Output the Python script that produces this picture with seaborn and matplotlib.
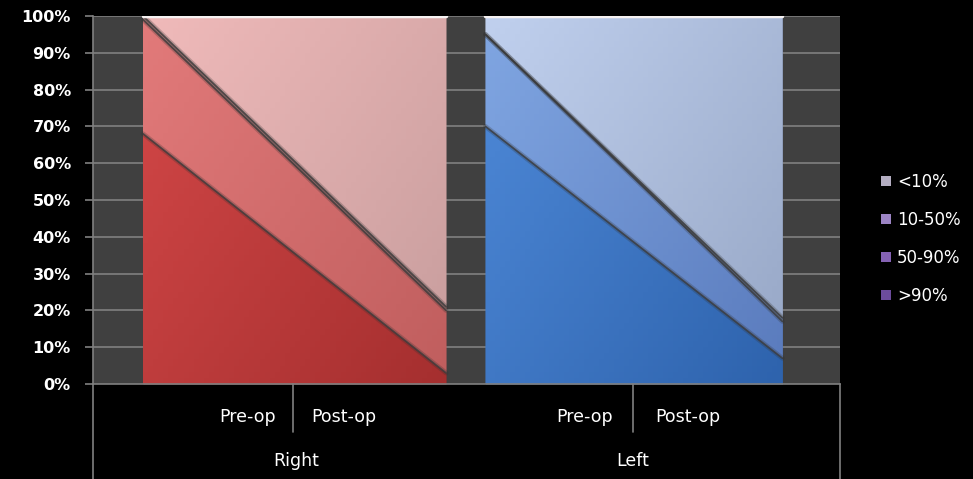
import numpy as np
import seaborn as sns
import matplotlib
matplotlib.use("Agg")
import matplotlib.pyplot as plt
from matplotlib.colors import LinearSegmentedColormap
from matplotlib.patches import Patch

# data (percent of each stage)
groups = ["Right", "Left"]
stages = ["Pre-op", "Post-op"]
series = ["<10%", "10-50%", "50-90%", ">90%"]

right_gt90 = [68, 3]
right_50_90 = [31, 17]
right_10_50 = [1, 1]
right_lt10 = [0, 79]

left_gt90 = [70, 7]
left_50_90 = [25, 10]
left_10_50 = [0, 1]
left_lt10 = [5, 82]

# where each group sits on the x axis
group_x = {"Right": [0.0, 1.0], "Left": [1.13, 2.11]}

# (light colour, dark colour) of each band, bottom band first
red_cols = [("#d44848", "#a52f2f"), ("#e27a7a", "#c05e5e"),
            ("#e9a0a0", "#c88888"), ("#f0baba", "#c79d9d")]
blue_cols = [("#4f8ad9", "#2e63ad"), ("#80a6e2", "#5a7bbd"),
             ("#9fb8e6", "#7f97c6"), ("#c0d0ee", "#97a7c6")]
legend_cols = ["#b4aec2", "#9c84c4", "#8562b4", "#6c4c9c"]

sns.set_theme(style="dark")
plt.rcParams['font.family'] = ['DejaVu Sans']

fig = plt.figure(figsize=(9.73, 4.79), dpi=100, facecolor="black")
W, H = 973, 479
ax = fig.add_axes([93 / W, (H - 384) / H, (840 - 93) / W, (384 - 16) / H])
ax.set_facecolor("#404040")

grid_col = "#808080"
ax.set_xlim(-0.165, 2.30)
ax.set_ylim(0, 100)
ax.set_yticks(np.arange(0, 101, 10))
ax.set_yticklabels([f"{v}%" for v in range(0, 101, 10)], color="white",
                   fontsize=11.5, fontweight="bold")
ax.set_xticks([])
ax.grid(False)
for y in range(10, 101, 10):
    ax.axhline(y, color=grid_col, lw=1.2, zorder=0)
ax.tick_params(axis="y", length=6, width=1.2, color=grid_col, pad=10, left=True)
for side in ["top", "right"]:
    ax.spines[side].set_visible(False)
ax.spines["left"].set_color(grid_col)
ax.spines["left"].set_linewidth(1.2)
ax.spines["bottom"].set_color(grid_col)
ax.spines["bottom"].set_linewidth(1.2)


def band(x, lower, upper, c_light, c_dark):
    poly = ax.fill_between(x, lower, upper, color=c_dark, lw=0, zorder=2)
    cmap = LinearSegmentedColormap.from_list("b", [c_light, c_dark])
    gx, gy = np.meshgrid(np.linspace(0, 1, 60), np.linspace(0, 1, 60))
    grad = 0.55 * gx + 0.45 * (1 - gy)
    im = ax.imshow(grad, extent=[x[0], x[1], 0, 100], origin="lower",
                   aspect="auto", cmap=cmap, vmin=0, vmax=1, zorder=2)
    im.set_clip_path(poly.get_paths()[0], ax.transData)


def draw_group(name, vals, cols):
    x = group_x[name]
    lower = np.zeros(2)
    for v, (cl, cd) in zip(vals, cols):
        upper = lower + np.array(v)
        if np.any(upper > lower):
            band(x, lower, upper, cl, cd)
        lower = upper
    # dark seams between bands, with a soft shadow
    tops = np.cumsum(np.array(vals), axis=0)
    for t in tops[:-1]:
        sns.lineplot(x=x, y=t, ax=ax, color="#303030", lw=3.5, alpha=0.25,
                     zorder=3, legend=False)
        sns.lineplot(x=x, y=t, ax=ax, color="#3a3a3a", lw=1.3, alpha=0.8,
                     zorder=3, legend=False)
    sns.lineplot(x=x, y=[100, 100], ax=ax, color="#f6f2f2", lw=2.5,
                 zorder=3, legend=False)


draw_group("Right", [right_gt90, right_50_90, right_10_50, right_lt10], red_cols)
draw_group("Left", [left_gt90, left_50_90, left_10_50, left_lt10], blue_cols)
ax.set_xlim(-0.165, 2.30)
ax.set_ylim(0, 100)
ax.set_xlabel("")
ax.set_ylabel("")

# two-level category axis underneath
line_kw = dict(color=grid_col, lw=1.2, transform=fig.transFigure)
fig.add_artist(plt.Line2D([93 / W, 93 / W], [0, (H - 384) / H], **line_kw))
fig.add_artist(plt.Line2D([840 / W, 840 / W], [0, (H - 384) / H], **line_kw))
for xd in [293, 633]:
    fig.add_artist(plt.Line2D([xd / W, xd / W], [(H - 432) / H, (H - 384) / H], **line_kw))

stage_px = {"Right": [248, 344], "Left": [585, 688]}
group_px = {"Right": 296, "Left": 633}
for g in groups:
    for s, px in zip(stages, stage_px[g]):
        fig.text(px / W, (H - 417) / H, s, color="white", fontsize=12.5,
                 ha="center", va="center")
    fig.text(group_px[g] / W, (H - 461) / H, g, color="white", fontsize=12.5,
             ha="center", va="center")

handles = [Patch(facecolor=c, edgecolor="none", label=s)
           for s, c in zip(series, legend_cols)]
fig.legend(handles=handles, loc="upper left", bbox_to_anchor=(866 / W, (H - 158) / H),
           frameon=False, labelcolor="white", fontsize=12, handlelength=0.6,
           handleheight=0.6, handletextpad=0.35, labelspacing=1.2)

fig.savefig("out.png", dpi=100, facecolor="black")
